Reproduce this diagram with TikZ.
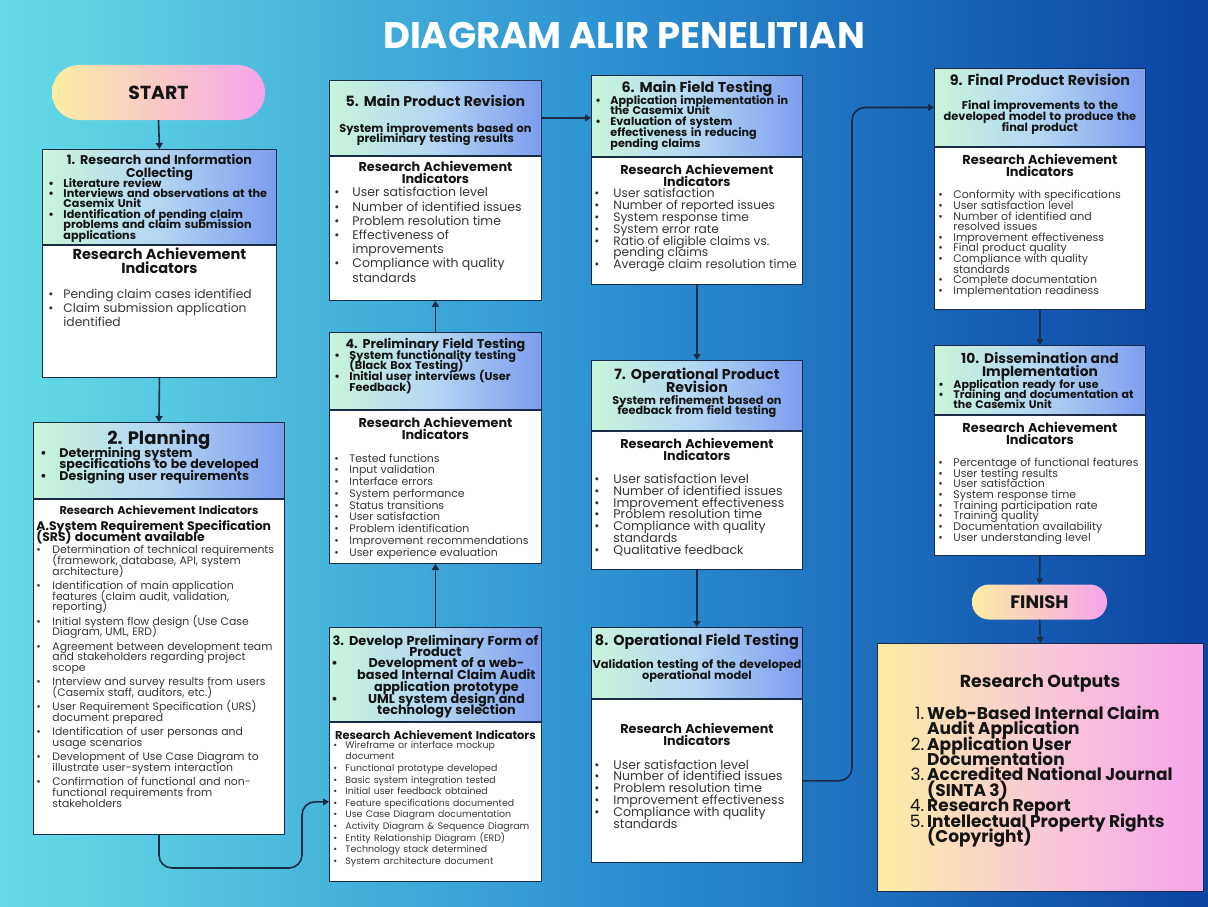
\documentclass[tikz,border=0pt]{standalone}
\usepackage{fontspec}
\setmainfont{Poppins}
\usetikzlibrary{positioning,arrows.meta}

\definecolor{bgleft}{HTML}{66DCE6}
\definecolor{bgmid}{HTML}{2D92D2}
\definecolor{bgright}{HTML}{0A43A3}
\definecolor{hdmint}{HTML}{C9F5DA}
\definecolor{hdmid}{HTML}{B3D6F3}
\definecolor{hdblue}{HTML}{7C9DEE}
\definecolor{pillyel}{HTML}{FCEDA3}
\definecolor{pillpink}{HTML}{F6A4EA}
\definecolor{outmid}{HTML}{F9C9D6}
\definecolor{boxline}{HTML}{1B2B45}
\definecolor{inkdark}{HTML}{141414}
\definecolor{inkgray}{HTML}{363636}

\newcommand{\fsz}[2]{\fontsize{#1}{#2}\selectfont}
\newcommand{\tightlines}{\lineskiplimit=-100pt\normallineskiplimit=-100pt\parindent=0pt}
\newlength{\bulw}\setlength{\bulw}{15pt}
\newcommand{\igap}{0pt}
\newcommand{\bi}[1]{\par\vspace{\igap}{\raggedright\let\\\newline\hangindent=\bulw\hangafter=1\noindent\makebox[\bulw][l]{\textbullet}#1\par}}
\newcommand{\cbi}[1]{\par\noindent\makebox[\bulw][l]{\textbullet}\parbox[t]{\dimexpr\hsize-\bulw\relax}{\tightlines\centering #1\par}\par\prevdepth=3pt}
\newcommand{\oitem}[2]{\par{\raggedright\let\\\newline\hangindent=17pt\hangafter=1\noindent\makebox[17pt][r]{\mdseries #1\hspace{3pt}}#2\par}}

\tikzset{
  hdr/.style={draw=boxline, line width=0.9pt, left color=hdmint, right color=hdblue, middle color=hdmid, anchor=north west, inner sep=0pt},
  bdy/.style={draw=boxline, line width=0.9pt, fill=white, inner sep=0pt},
  htxt/.style={inner sep=0pt, align=center, text=inkdark, font=\bfseries\tightlines, execute at begin node={\tightlines}},
  btxt/.style={inner sep=0pt, align=center, text=inkgray, font=\tightlines, execute at begin node={\tightlines}},
  pill/.style={left color=pillyel, right color=pillpink, text=inkdark, inner sep=0pt},
  flow/.style={draw=boxline, line width=1.6pt, -{Triangle[length=6pt,width=7pt]}},
}

\begin{document}
\begin{tikzpicture}[x=1pt,y=-1pt]
\useasboundingbox (0,0) rectangle (1208,907);
\shade[left color=bgleft, right color=bgright, middle color=bgmid] (0,0) rectangle (1208,907);

\node[text=white, font=\fsz{37}{37}\bfseries] (ttl) at (624,35) {DIAGRAM ALIR PENELITIAN};

% start
\node[pill, minimum width=213pt, minimum height=55pt, rounded corners=27pt, font=\fsz{18.9}{18}\bfseries] (st) at (158.5,92.5) {START};

% box 1
\node[hdr, minimum width=234pt, minimum height=95pt] (h1) at (42,149) {};
\node[bdy, minimum width=234pt, minimum height=132pt, below=0pt of h1] (b1) {};
\node[htxt, text width=222pt, below=5.3pt of h1.north] (h1t) {{\fsz{12.7}{13}1. Research and Information\\Collecting\par}
  \fsz{11.2}{10.4}\vspace{-0.9pt}
  \bi{Literature review}
  \bi{Interviews and observations at the\\Casemix Unit}
  \bi{Identification of pending claim\\problems and claim submission\\applications}};
\node[btxt, text width=222pt, below=3pt of b1.north] (b1t) {{\bfseries\color{inkdark}\fsz{14.5}{14}Research Achievement\\Indicators\par}
  \fsz{12.3}{14}\vspace{11.2pt}
  \bi{Pending claim cases identified}
  \bi{Claim submission application\\identified}};

% box 2
\node[hdr, minimum width=251pt, minimum height=76pt] (h2) at (33,422) {};
\node[bdy, minimum width=251pt, minimum height=335pt, below=0pt of h2] (b2) {};
\node[htxt, text width=237pt, below=8.3pt of h2.north] (h2t) {{\fsz{18}{18}2. Planning\par}
  \fsz{12.6}{11.5}\vspace{0.8pt}\setlength{\bulw}{19pt}
  \bi{Determining system\\specifications to be developed}
  \bi{Designing user requirements}};
\node[btxt, text width=245pt, below=6.8pt of b2.north] (b2t) {{\bfseries\color{inkdark}\fsz{11.3}{11}Research Achievement Indicators\par}
  \vspace{4.8pt}
  {\raggedright\bfseries\color{inkdark}\fsz{12.4}{11}A.System Requirement Specification\\(SRS) document available\par}
  \fsz{10.85}{10.9}\renewcommand{\igap}{3.2pt}\vspace{-2.6pt}\setlength{\bulw}{16pt}
  \bi{Determination of technical requirements\\(framework, database, API, system\\architecture)}
  \bi{Identification of main application\\features (claim audit, validation,\\reporting)}
  \bi{Initial system flow design (Use Case\\Diagram, UML, ERD)}
  \bi{Agreement between development team\\and stakeholders regarding project\\scope}
  \bi{Interview and survey results from users\\(Casemix staff, auditors, etc.)}
  \bi{User Requirement Specification (URS)\\document prepared}
  \bi{Identification of user personas and\\usage scenarios}
  \bi{Development of Use Case Diagram to\\illustrate user-system interaction}
  \bi{Confirmation of functional and non-\\functional requirements from\\stakeholders}};

% box 3
\node[hdr, minimum width=212pt, minimum height=94pt] (h3) at (329,627) {};
\node[bdy, minimum width=212pt, minimum height=159pt, below=0pt of h3] (b3) {};
\node[htxt, text width=208pt, below=8.2pt of h3.north] (h3t) {{\fsz{12.9}{11}3. Develop Preliminary Form of\\Product\par}
  \fsz{12.8}{11.7}\vspace{-0.7pt}\setlength{\bulw}{22pt}
  \cbi{Development of a web-\\based Internal Claim Audit\\application prototype}
  \cbi{UML system design and\\technology selection}};
\node[btxt, text width=204pt, below=7.8pt of b3.north] (b3t) {{\bfseries\color{inkdark}\fsz{11.4}{11}Research Achievement Indicators\par}
  \fsz{9.4}{11.6}\vspace{-2.3pt}\setlength{\bulw}{12pt}
  \bi{Wireframe or interface mockup\\document}
  \bi{Functional prototype developed}
  \bi{Basic system integration tested}
  \bi{Initial user feedback obtained}
  \bi{Feature specifications documented}
  \bi{Use Case Diagram documentation}
  \bi{Activity Diagram \& Sequence Diagram}
  \bi{Entity Relationship Diagram (ERD)}
  \bi{Technology stack determined}
  \bi{System architecture document}};

% box 4
\node[hdr, minimum width=212pt, minimum height=77pt] (h4) at (329,332) {};
\node[bdy, minimum width=212pt, minimum height=153pt, below=0pt of h4] (b4) {};
\node[htxt, text width=202pt, below=6.3pt of h4.north] (h4t) {{\fsz{12.7}{11}4. Preliminary Field Testing\par}
  \fsz{11.3}{10.8}\vspace{-0.3pt}
  \bi{System functionality testing\\(Black Box Testing)}
  \bi{Initial user interviews (User\\Feedback)}};
\node[btxt, text width=202pt, below=7.3pt of b4.north] (b4t) {{\bfseries\color{inkdark}\fsz{12.8}{12}Research Achievement\\Indicators\par}
  \fsz{10.9}{11.75}\vspace{10.6pt}
  \bi{Tested functions}
  \bi{Input validation}
  \bi{Interface errors}
  \bi{System performance}
  \bi{Status transitions}
  \bi{User satisfaction}
  \bi{Problem identification}
  \bi{Improvement recommendations}
  \bi{User experience evaluation}};

% box 5
\node[hdr, minimum width=212pt, minimum height=75pt] (h5) at (329,80) {};
\node[bdy, minimum width=212pt, minimum height=144pt, below=0pt of h5] (b5) {};
\node[htxt, text width=204pt, below=14.8pt of h5.north] (h5t) {{\fsz{14.1}{14}5. Main Product Revision\par}
  \fsz{11.35}{10.5}\vspace{15.5pt}
  System improvements based on\\preliminary testing results\par};
\node[btxt, text width=202pt, below=5.2pt of b5.north] (b5t) {{\bfseries\color{inkdark}\fsz{12.8}{11.5}Research Achievement\\Indicators\par}
  \fsz{12.5}{14.2}\vspace{-0.3pt}\setlength{\bulw}{18pt}
  \bi{User satisfaction level}
  \bi{Number of identified issues}
  \bi{Problem resolution time}
  \bi{Effectiveness of\\improvements}
  \bi{Compliance with quality\\standards}};

% box 6
\node[hdr, minimum width=211pt, minimum height=81pt] (h6) at (591,75) {};
\node[bdy, minimum width=211pt, minimum height=127pt, below=0pt of h6] (b6) {};
\node[htxt, text width=203pt, below=5.7pt of h6.north] (h6t) {{\fsz{14.3}{14}6. Main Field Testing\par}
  \fsz{11.15}{10.7}\vspace{1.2pt}
  \bi{Application implementation in\\the Casemix Unit}
  \bi{Evaluation of system\\effectiveness in reducing\\pending claims}};
\node[btxt, text width=205pt, below=7.3pt of b6.north] (b6t) {{\bfseries\color{inkdark}\fsz{12.75}{11.5}Research Achievement\\Indicators\par}
  \fsz{12.2}{11.8}\setlength{\bulw}{19pt}
  \bi{User satisfaction}
  \bi{Number of reported issues}
  \bi{System response time}
  \bi{System error rate}
  \bi{Ratio of eligible claims vs.\\pending claims}
  \bi{Average claim resolution time}};

% box 7
\node[hdr, minimum width=211pt, minimum height=70pt] (h7) at (591,360) {};
\node[bdy, minimum width=211pt, minimum height=138pt, below=0pt of h7] (b7) {};
\node[htxt, text width=205pt, below=7.7pt of h7.north] (h7t) {{\fsz{14.2}{13}7. Operational Product\\Revision\par}
  \fsz{11.25}{10.5}\vspace{1.5pt}
  System refinement based on\\feedback from field testing\par};
\node[btxt, text width=205pt, below=7.3pt of b7.north] (b7t) {{\bfseries\color{inkdark}\fsz{12.75}{12}Research Achievement\\Indicators\par}
  \fsz{12.5}{11.8}\vspace{11.1pt}\setlength{\bulw}{19pt}
  \bi{User satisfaction level}
  \bi{Number of identified issues}
  \bi{Improvement effectiveness}
  \bi{Problem resolution time}
  \bi{Compliance with quality\\standards}
  \bi{Qualitative feedback}};

% box 8
\node[hdr, minimum width=211pt, minimum height=71pt] (h8) at (591,627) {};
\node[bdy, minimum width=211pt, minimum height=163pt, below=0pt of h8] (b8) {};
\node[htxt, text width=211pt, below=6.7pt of h8.north] (h8t) {{\fsz{14.4}{14}8. Operational Field Testing\par}
  \fsz{11.4}{11}\vspace{11.9pt}
  Validation testing of the developed\\operational model\par};
\node[btxt, text width=205pt, below=24.3pt of b8.north] (b8t) {{\bfseries\color{inkdark}\fsz{12.75}{11.5}Research Achievement\\Indicators\par}
  \fsz{12.5}{11.8}\vspace{12.1pt}\setlength{\bulw}{19pt}
  \bi{User satisfaction level}
  \bi{Number of identified issues}
  \bi{Problem resolution time}
  \bi{Improvement effectiveness}
  \bi{Compliance with quality\\standards}};

% box 9
\node[hdr, minimum width=211pt, minimum height=78pt] (h9) at (934,68) {};
\node[bdy, minimum width=211pt, minimum height=162pt, below=0pt of h9] (b9) {};
\node[htxt, text width=205pt, below=5.7pt of h9.north] (h9t) {{\fsz{14.3}{14}9. Final Product Revision\par}
  \fsz{11.35}{11}\vspace{13pt}
  Final improvements to the\\developed model to produce the\\final product\par};
\node[btxt, text width=203pt, below=7.2pt of b9.north] (b9t) {{\bfseries\color{inkdark}\fsz{12.9}{12}Research Achievement\\Indicators\par}
  \fsz{11}{10.6}\vspace{11.7pt}
  \bi{Conformity with specifications}
  \bi{User satisfaction level}
  \bi{Number of identified and\\resolved issues}
  \bi{Improvement effectiveness}
  \bi{Final product quality}
  \bi{Compliance with quality\\standards}
  \bi{Complete documentation}
  \bi{Implementation readiness}};

% box 10
\node[hdr, minimum width=211pt, minimum height=69pt] (h10) at (934,345) {};
\node[bdy, minimum width=211pt, minimum height=140pt, below=0pt of h10] (b10) {};
\node[htxt, text width=203pt, below=6.9pt of h10.north] (h10t) {{\fsz{13.8}{13}10. Dissemination and\\Implementation\par}
  \fsz{11}{10}\vspace{2pt}
  \bi{Application ready for use}
  \bi{Training and documentation at\\the Casemix Unit}};
\node[btxt, text width=203pt, below=7.2pt of b10.north] (b10t) {{\bfseries\color{inkdark}\fsz{12.9}{11.5}Research Achievement\\Indicators\par}
  \fsz{11}{10.7}\vspace{11.6pt}
  \bi{Percentage of functional features}
  \bi{User testing results}
  \bi{User satisfaction}
  \bi{System response time}
  \bi{Training participation rate}
  \bi{Training quality}
  \bi{Documentation availability}
  \bi{User understanding level}};

% finish and outputs
\node[pill, minimum width=135pt, minimum height=35pt, rounded corners=17pt, font=\fsz{18}{18}\bfseries] (fin) at (1039.5,602) {FINISH};
\node[draw=boxline, line width=0.9pt, left color=pillyel, right color=pillpink, middle color=outmid, minimum width=326pt, minimum height=248pt, anchor=north west] (out) at (877,643) {};
\node[text=inkdark, font=\fsz{17.4}{17}\bfseries] (outt) at (1040,683) {Research Outputs};
\node[htxt, text width=286pt, anchor=north west] (outl) at (910,703.7) {\fsz{17}{15.4}
  \oitem{1.}{Web-Based Internal Claim\\Audit Application}
  \oitem{2.}{Application User\\Documentation}
  \oitem{3.}{Accredited National Journal\\(SINTA 3)}
  \oitem{4.}{Research Report}
  \oitem{5.}{Intellectual Property Rights\\(Copyright)}};

% connectors
\coordinate (k1) at (302,868);
\coordinate (k2) at (852,0);
\draw[flow] (st.south) -- (h1.north);
\draw[flow] (b1.south) -- (h2.north);
\draw[flow, rounded corners=13pt] (b2.south) |- (k1) |- (b3.west);
\draw[flow] (h3.north) -- (b4.south);
\draw[flow] (h4.north) -- (b5.south);
\draw[flow] (h5.east) -- (h5.east -| h6.west);
\draw[flow] (b6.south) -- (h7.north);
\draw[flow] (b7.south) -- (h8.north);
\draw[flow, rounded corners=13pt] (b8.east) -| (k2 |- h9.west) -- (h9.west);
\draw[flow] (b9.south) -- (h10.north);
\draw[flow] (b10.south) -- (fin.north);
\draw[flow] (fin.south) -- (out.north);
\end{tikzpicture}
\end{document}
